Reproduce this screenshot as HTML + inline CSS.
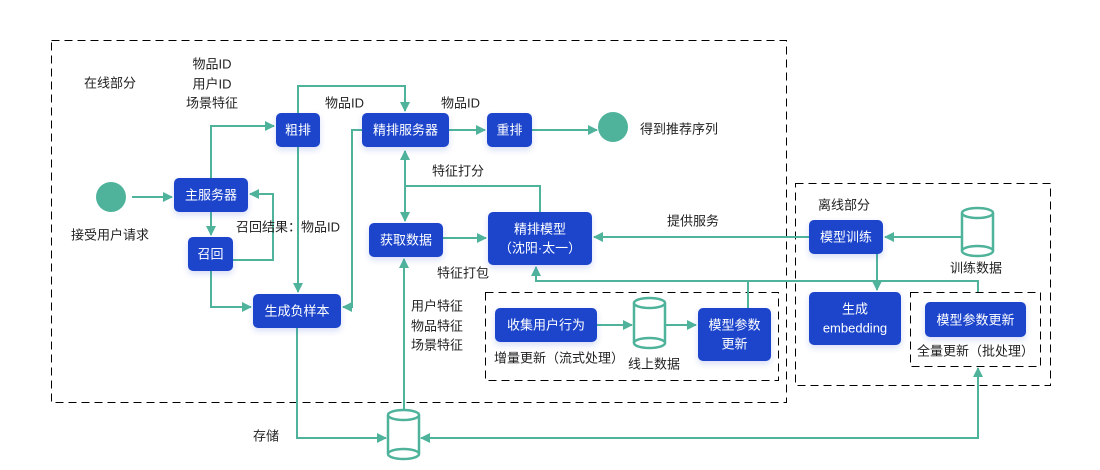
<!DOCTYPE html>
<html><head><meta charset="utf-8"><style>
html,body{margin:0;padding:0;background:#fff;}
svg{display:block;font-family:"Liberation Sans","Noto Sans CJK SC",sans-serif;}
.n{fill:#1f44cc;}
.t{fill:#fff;font-size:13px;text-anchor:middle;dominant-baseline:central;}
.l{fill:#222;font-size:13px;dominant-baseline:central;}
.e{fill:none;stroke:#4fb39c;stroke-width:2;}
.d{fill:none;stroke:#000;stroke-width:1;stroke-dasharray:8 5;shape-rendering:crispEdges;}
.c{fill:#fff;stroke:#4fb39c;stroke-width:2.5;}
</style></head><body>
<svg width="1100" height="470" viewBox="0 0 1100 470">
<defs>
<marker id="a" markerWidth="10" markerHeight="10" refX="9" refY="5" orient="auto" markerUnits="userSpaceOnUse"><path d="M0,0 L10,5 L0,10 z" fill="#4fb39c"/></marker>
<marker id="b" markerWidth="10" markerHeight="10" refX="1" refY="5" orient="auto" markerUnits="userSpaceOnUse"><path d="M10,0 L0,5 L10,10 z" fill="#4fb39c"/></marker>
<filter id="s" x="-20%" y="-20%" width="140%" height="160%"><feDropShadow dx="0" dy="3" stdDeviation="3" flood-color="#1f44cc" flood-opacity="0.18"/></filter>
</defs>
<rect class="d" x="51.5" y="40.5" width="735" height="362"/>
<rect class="d" x="795.5" y="183.5" width="255" height="202"/>
<rect class="d" x="485.5" y="292.5" width="293" height="88"/>
<rect class="d" x="910.5" y="292.5" width="130" height="74"/>

<path class="e" d="M132,197 H172" marker-end="url(#a)"/>
<path class="e" d="M211,178 V126 H274" marker-end="url(#a)"/>
<path class="e" d="M211,212 V235" marker-end="url(#a)"/>
<path class="e" d="M233,260 H273 V194 H250" marker-end="url(#a)"/>
<path class="e" d="M211,271 V307 H251" marker-end="url(#a)"/>
<path class="e" d="M298,147 V292" marker-end="url(#a)"/>
<path class="e" d="M298,113 V86 H405 V111" marker-end="url(#a)"/>
<path class="e" d="M362,130 H352 V307 H343" marker-end="url(#a)"/>
<path class="e" d="M449,130 H485" marker-end="url(#a)"/>
<path class="e" d="M532,130 H597" marker-end="url(#a)"/>
<path class="e" d="M405,151 V221" marker-start="url(#b)" marker-end="url(#a)"/>
<path class="e" d="M405,186 H540 V212"/>
<path class="e" d="M443,238 H486" marker-end="url(#a)"/>
<path class="e" d="M404,410 V259" marker-end="url(#a)"/>
<path class="e" d="M809,237 H594" marker-end="url(#a)"/>
<path class="e" d="M978,292 V281 H536 V267" marker-end="url(#a)"/>
<path class="e" d="M748,308 V281"/>
<path class="e" d="M877,254 V290" marker-end="url(#a)"/>
<path class="e" d="M962,237 H885" marker-end="url(#a)"/>
<path class="e" d="M597,325 H632" marker-end="url(#a)"/>
<path class="e" d="M665,325 H696" marker-end="url(#a)"/>
<path class="e" d="M297,328 V438 H386" marker-end="url(#a)"/>
<path class="e" d="M978,368 V438 H421" marker-start="url(#b)" marker-end="url(#a)"/>

<circle cx="111" cy="197" r="15" fill="#4fb39c"/>
<circle cx="613" cy="127" r="15" fill="#4fb39c"/>

<g>
<path class="c" d="M634,303 V343 A15.5,5 0 0 0 665,343 V303"/>
<ellipse class="c" cx="649.5" cy="303" rx="15.5" ry="5"/>
<path class="c" d="M634,343 A15.5,5 0 0 1 665,343" />
</g>
<g>
<path class="c" d="M962,213 V251 A15.5,5 0 0 0 993,251 V213"/>
<ellipse class="c" cx="977.5" cy="213" rx="15.5" ry="5"/>
<path class="c" d="M962,251 A15.5,5 0 0 1 993,251"/>
</g>
<g>
<path class="c" d="M388,415 V454 A15.5,5 0 0 0 419,454 V415"/>
<ellipse class="c" cx="403.5" cy="415" rx="15.5" ry="5"/>
<path class="c" d="M388,454 A15.5,5 0 0 1 419,454"/>
</g>

<g filter="url(#s)">
<rect class="n" x="174" y="178" width="74" height="34" rx="5"/>
<rect class="n" x="188" y="237" width="45" height="34" rx="5"/>
<rect class="n" x="276" y="113" width="44" height="34" rx="5"/>
<rect class="n" x="253" y="294" width="88" height="34" rx="5"/>
<rect class="n" x="362" y="113" width="87" height="34" rx="5"/>
<rect class="n" x="487" y="113" width="45" height="34" rx="5"/>
<rect class="n" x="369" y="223" width="74" height="34" rx="5"/>
<rect class="n" x="488" y="212" width="104" height="53" rx="5"/>
<rect class="n" x="495" y="308" width="102" height="34" rx="5"/>
<rect class="n" x="698" y="308" width="73" height="53" rx="5"/>
<rect class="n" x="809" y="220" width="74" height="34" rx="5"/>
<rect class="n" x="809" y="292" width="92" height="53" rx="5"/>
<rect class="n" x="925" y="302" width="101" height="35" rx="5"/>
</g>
<text class="t" x="211" y="195">主服务器</text>
<text class="t" x="210.5" y="254">召回</text>
<text class="t" x="298" y="130">粗排</text>
<text class="t" x="297" y="311">生成负样本</text>
<text class="t" x="405.5" y="130">精排服务器</text>
<text class="t" x="509.5" y="130">重排</text>
<text class="t" x="406" y="240">获取数据</text>
<text class="t" x="540" y="229">精排模型</text>
<text class="t" x="540" y="248">（沈阳·太一）</text>
<text class="t" x="546" y="325">收集用户行为</text>
<text class="t" x="734.5" y="325">模型参数</text>
<text class="t" x="734.5" y="344">更新</text>
<text class="t" x="846" y="237">模型训练</text>
<text class="t" x="855" y="309">生成</text>
<text class="t" x="855" y="328">embedding</text>
<text class="t" x="975.5" y="320">模型参数更新</text>

<text class="l" x="84" y="83">在线部分</text>
<text class="l" x="212" y="64" text-anchor="middle">物品ID</text>
<text class="l" x="212" y="84" text-anchor="middle">用户ID</text>
<text class="l" x="212" y="103" text-anchor="middle">场景特征</text>
<text class="l" x="325" y="103">物品ID</text>
<text class="l" x="441" y="103">物品ID</text>
<text class="l" x="640" y="129">得到推荐序列</text>
<text class="l" x="71" y="235">接受用户请求</text>
<text class="l" x="236" y="227">召回结果：物品ID</text>
<text class="l" x="432" y="171">特征打分</text>
<text class="l" x="667" y="221">提供服务</text>
<text class="l" x="437" y="273">特征打包</text>
<text class="l" x="411" y="306">用户特征</text>
<text class="l" x="411" y="326">物品特征</text>
<text class="l" x="411" y="345">场景特征</text>
<text class="l" x="494" y="358">增量更新（流式处理）</text>
<text class="l" x="628" y="364">线上数据</text>
<text class="l" x="253" y="436">存储</text>
<text class="l" x="818" y="205">离线部分</text>
<text class="l" x="950" y="268">训练数据</text>
<text class="l" x="917" y="351">全量更新（批处理）</text>
</svg>
</body></html>
